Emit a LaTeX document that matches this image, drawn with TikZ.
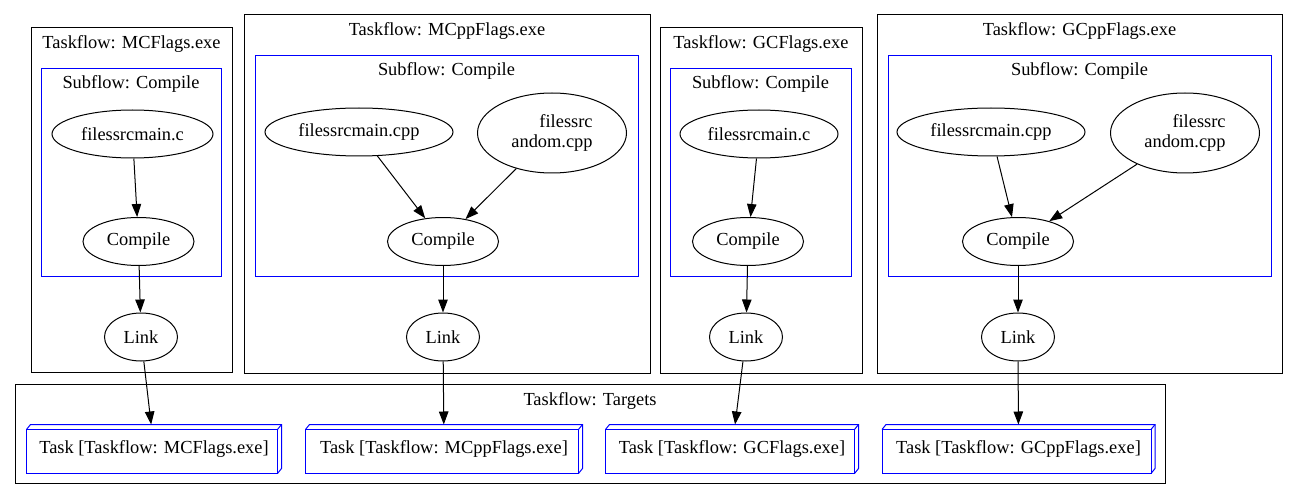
\documentclass[tikz,border=0pt]{standalone}
\usepackage{fontspec}
\setmainfont{Liberation Serif}
\usetikzlibrary{shapes.geometric,arrows.meta}
\newcommand\taskbox[1]{%
  \draw[blue] (#1.south west) rectangle ([xshift=-4pt,yshift=-5pt]#1.north east);
  \draw[blue] ([yshift=-5pt]#1.north west) -- ([xshift=4pt]#1.north west) -- (#1.north east) -- ([yshift=5pt]#1.south east) -- ([xshift=-4pt]#1.south east);
  \draw[blue] ([xshift=-4pt,yshift=-5pt]#1.north east) -- (#1.north east);
}
\begin{document}
\begin{tikzpicture}[x=1pt,y=-1pt,line width=1pt,
  every node/.style={font=\fontsize{18.4}{20}\selectfont},
  ell/.style={draw,ellipse,inner sep=0pt,minimum height=48pt},
  title/.style={anchor=base,inner sep=0pt},
  cluster/.style={draw=black},
  sub/.style={draw=blue},
  task/.style={rectangle,inner sep=0pt,minimum height=48pt},
  arr/.style={-{Triangle[length=13pt,width=9.5pt]}}]
\useasboundingbox (0,0) rectangle (1299,500);
% clusters
\draw[cluster] (31,28) rectangle (232,372);
\node[title] (t1) at (131.5,49) {Taskflow: MCFlags.exe};
\draw[sub] (41,69) rectangle (221,276);
\node[title] (s1) at (131,89) {Subflow: Compile};

\draw[cluster] (244,15) rectangle (650,373);
\node[title] (t2) at (447,36) {Taskflow: MCppFlags.exe};
\draw[sub] (255,56) rectangle (638,276);
\node[title] (s2) at (446.5,76) {Subflow: Compile};

\draw[cluster] (660,28) rectangle (862,373);
\node[title] (t3) at (761,49) {Taskflow: GCFlags.exe};
\draw[sub] (670,69) rectangle (851,276);
\node[title] (s3) at (760.5,89) {Subflow: Compile};

\draw[cluster] (877,15) rectangle (1282,373);
\node[title] (t4) at (1079.5,36) {Taskflow: GCppFlags.exe};
\draw[sub] (888,56) rectangle (1271,276);
\node[title] (s4) at (1079.5,76) {Subflow: Compile};

\draw[cluster] (15,384) rectangle (1165,483);
\node[title] (tt) at (590,405) {Taskflow: Targets};

% nodes cluster 1
\node[ell,minimum width=161pt] (m1) at (132.5,134) {filessrcmain.c};
\node[ell,minimum width=111pt] (c1) at (138.5,241.5) {Compile};
\node[ell,minimum width=73pt] (l1) at (141,337) {Link};
% cluster 2
\node[ell,minimum width=188pt] (m2) at (359,132) {filessrcmain.cpp};
\node[ell,minimum width=149pt,minimum height=80pt,align=right] (r2) at (552,133) {filessrc\\andom.cpp};
\node[ell,minimum width=111pt] (c2) at (443,241.5) {Compile};
\node[ell,minimum width=73pt] (l2) at (443,337) {Link};
% cluster 3
\node[ell,minimum width=158pt] (m3) at (759,134) {filessrcmain.c};
\node[ell,minimum width=111pt] (c3) at (748,241.5) {Compile};
\node[ell,minimum width=73pt] (l3) at (746,337) {Link};
% cluster 4
\node[ell,minimum width=188pt] (m4) at (991,132) {filessrcmain.cpp};
\node[ell,minimum width=149pt,minimum height=80pt,align=right] (r4) at (1185,133) {filessrc\\andom.cpp};
\node[ell,minimum width=111pt] (c4) at (1018,241.5) {Compile};
\node[ell,minimum width=73pt] (l4) at (1018,337) {Link};

% tasks
\node[task,minimum width=254pt] (k1) at (154,449) {Task [Taskflow: MCFlags.exe]};
\node[task,minimum width=276pt] (k2) at (444,449) {Task [Taskflow: MCppFlags.exe]};
\node[task,minimum width=252pt] (k3) at (732,449) {Task [Taskflow: GCFlags.exe]};
\node[task,minimum width=272pt] (k4) at (1018.5,449) {Task [Taskflow: GCppFlags.exe]};
\taskbox{k1}
\taskbox{k2}
\taskbox{k3}
\taskbox{k4}

% edges
\draw[arr] (m1) -- (c1);
\draw[arr] (c1) -- (l1);
\draw[arr] (m2) -- (c2);
\draw[arr] (r2) -- (c2);
\draw[arr] (c2) -- (l2);
\draw[arr] (m3) -- (c3);
\draw[arr] (c3) -- (l3);
\draw[arr] (m4) -- (c4);
\draw[arr] (r4) -- (c4);
\draw[arr] (c4) -- (l4);
\draw[arr] (l1) -- (k1);
\draw[arr] (l2) -- (k2);
\draw[arr] (l3) -- (k3);
\draw[arr] (l4) -- (k4);
\end{tikzpicture}
\end{document}
